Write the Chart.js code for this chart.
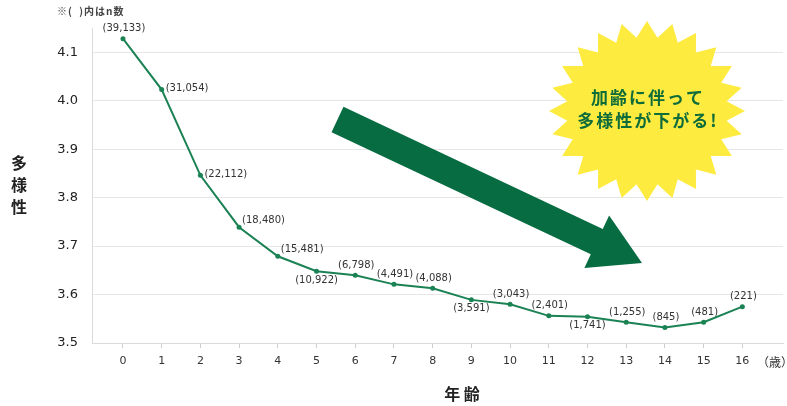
<!DOCTYPE html>
<html>
<head>
<meta charset="utf-8">
<script src="https://cdn.jsdelivr.net/npm/chart.js@4.4.1/dist/chart.umd.min.js"></script>
<style>
body{margin:0;background:#fff}
#wrap{width:787px;height:406px}
</style>
</head>
<body>
<div id="wrap"><canvas id="myChart" width="787" height="406"></canvas></div>
<script>
"use strict";

// 年齢 (歳)
const ages = [0, 1, 2, 3, 4, 5, 6, 7, 8, 9, 10, 11, 12, 13, 14, 15, 16];
// 多様性
const diversity = [4.128, 4.023, 3.846, 3.739, 3.679, 3.648, 3.640, 3.621, 3.613, 3.589, 3.580, 3.556, 3.554, 3.543, 3.532, 3.543, 3.575];
// n数
const nCounts = ['39,133', '31,054', '22,112', '18,480', '15,481', '10,922', '6,798', '4,491', '4,088', '3,591', '3,043', '2,401', '1,741', '1,255', '845', '481', '221'];
const yTicks = [3.5, 3.6, 3.7, 3.8, 3.9, 4.0, 4.1];
// where each n label sits
const labelSide = ['above', 'right', 'right', 'aboveRight', 'aboveRight', 'below', 'above', 'above', 'above', 'below', 'above', 'above', 'below', 'above', 'above', 'above', 'above'];

const JP = '"Noto Sans CJK JP", "Noto Sans", sans-serif';
const NUM = '"DejaVu Sans", "Noto Sans CJK JP", sans-serif';
const GREEN = '#1b8254';
const DARK_GREEN = '#076c42';

const extras = {
	id: 'extras',
	afterDatasetsDraw(chart) {
		const ctx = chart.ctx;
		const meta = chart.getDatasetMeta(0);
		ctx.save();
		ctx.fillStyle = '#333';
		ctx.font = '10px ' + NUM;
		ctx.textBaseline = 'middle';
		meta.data.forEach((pt, i) => {
			const side = labelSide[i];
			const txt = '(' + nCounts[i] + ')';
			if (side == 'right') {
				ctx.textAlign = 'left';
				ctx.fillText(txt, pt.x + 4, pt.y - 1);
			} else if (side == 'aboveRight') {
				ctx.textAlign = 'left';
				ctx.fillText(txt, pt.x + 3, pt.y - 7);
			} else if (side == 'below') {
				ctx.textAlign = 'center';
				ctx.fillText(txt, pt.x, pt.y + 9);
			} else {
				ctx.textAlign = 'center';
				ctx.fillText(txt, pt.x + 1, pt.y - 10);
			}
		});
		ctx.restore();
	},
	afterDraw(chart) {
		const ctx = chart.ctx;
		ctx.save();

		// note
		ctx.fillStyle = '#444';
		ctx.font = 'bold 10px ' + JP;
		ctx.textAlign = 'left';
		ctx.textBaseline = 'middle';
		ctx.letterSpacing = '1px';
		ctx.fillText('※(  )内はn数', 57, 11);
		ctx.letterSpacing = '0px';

		// y title
		ctx.fillStyle = '#222';
		ctx.font = 'bold 16px ' + JP;
		ctx.textAlign = 'center';
		['多', '様', '性'].forEach((c, i) => ctx.fillText(c, 19, 163 + i * 22));

		// x title + unit
		ctx.fillText('年 齢', 462, 394);
		ctx.font = '12px ' + JP;
		ctx.fillStyle = '#333';
		ctx.textAlign = 'left';
		ctx.fillText('（歳）', 757, 362);

		// arrow
		const S = {x: 337.5, y: 119.5}, T = {x: 642, y: 263};
		const L = Math.hypot(T.x - S.x, T.y - S.y);
		const u = {x: (T.x - S.x) / L, y: (T.y - S.y) / L};
		const n = {x: -u.y, y: u.x};
		const B = {x: T.x - u.x * 50, y: T.y - u.y * 50};
		const p = (o, k) => [o.x + n.x * k, o.y + n.y * k];
		const pts = [p(S, 14), p(B, 14), p(B, 29), [T.x, T.y], p(B, -29), p(B, -14), p(S, -14)];
		ctx.fillStyle = DARK_GREEN;
		ctx.beginPath();
		pts.forEach((q, i) => i ? ctx.lineTo(q[0], q[1]) : ctx.moveTo(q[0], q[1]));
		ctx.closePath();
		ctx.fill();

		// starburst
		const cx = 647, cy = 111, spikes = 24;
		ctx.fillStyle = '#fdeb3f';
		ctx.beginPath();
		for (let i = 0; i < spikes * 2; i++) {
			const a = -Math.PI / 2 + i * Math.PI / spikes;
			const r = i % 2 ? 0.82 : 1;
			const x = cx + Math.cos(a) * 98 * r, y = cy + Math.sin(a) * 90 * r;
			i ? ctx.lineTo(x, y) : ctx.moveTo(x, y);
		}
		ctx.closePath();
		ctx.fill();

		ctx.fillStyle = '#0e6b3a';
		ctx.font = 'bold 17px ' + JP;
		ctx.textAlign = 'center';
		ctx.letterSpacing = '2px';
		ctx.fillText('加齢に伴って', cx + 1, 98);
		ctx.fillText('多様性が下がる!', cx + 1, 121);
		ctx.restore();
	}
};

const config = {
	type: 'line',
	data: {
		datasets: [{
			data: ages.map((a, i) => ({x: a, y: diversity[i]})),
			borderColor: GREEN,
			backgroundColor: GREEN,
			borderWidth: 2,
			pointRadius: 2.5,
			pointBorderWidth: 0,
			tension: 0
		}]
	},
	options: {
		responsive: false,
		animation: false,
		layout: {padding: {top: 28, right: 3, left: 0, bottom: 0}},
		plugins: {legend: {display: false}, tooltip: {enabled: false}},
		scales: {
			x: {
				type: 'linear',
				min: -0.8,
				max: 17.05,
				afterBuildTicks: (scale) => { scale.ticks = ages.map(v => ({value: v})); },
				afterFit: (scale) => { scale.height = 63; },
				grid: {drawOnChartArea: false, drawTicks: true, tickLength: 5, color: '#cfcfcf'},
				border: {color: '#dadada'},
				ticks: {color: '#333', font: {size: 11, family: NUM}, padding: 7, maxRotation: 0, autoSkip: false}
			},
			y: {
				min: 3.5,
				max: 4.15,
				afterBuildTicks: (scale) => { scale.ticks = yTicks.map(v => ({value: v})); },
				afterFit: (scale) => { scale.width = 92; },
				grid: {color: '#e6e6e6', drawTicks: false},
				border: {color: '#dadada'},
				ticks: {color: '#222', font: {size: 13, family: NUM}, padding: 14, callback: (v) => v.toFixed(1)}
			}
		}
	},
	plugins: [extras]
};

const myChart = new Chart(document.getElementById('myChart'), config);
</script>
</body>
</html>
